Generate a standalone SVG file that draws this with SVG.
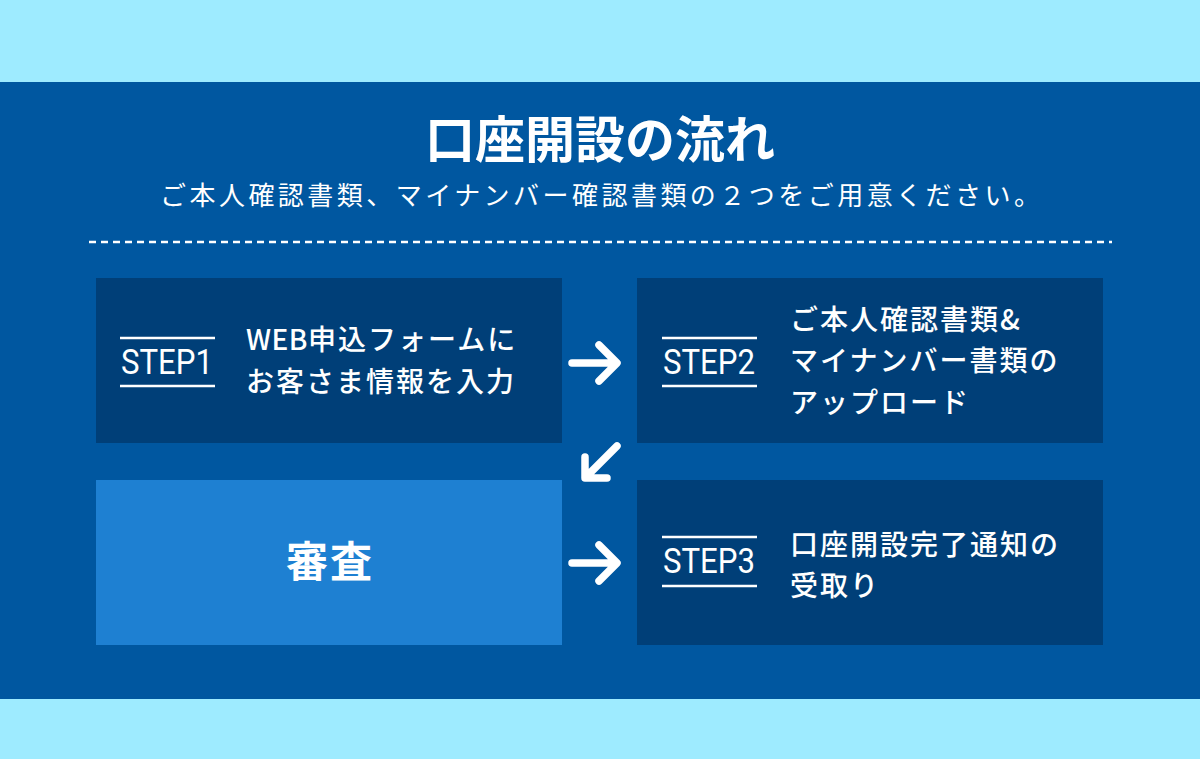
<svg xmlns="http://www.w3.org/2000/svg" width="1200" height="759" viewBox="0 0 1200 759">
<style>
.jp{font-family:"Noto Sans CJK JP","Noto Sans",sans-serif;fill:#fff}
.bt{font-size:28px;letter-spacing:2px;font-weight:500}
.box{fill:#003F78}
.step{font-family:"Roboto","Liberation Sans",sans-serif;fill:#fff;font-size:35px}
.ul{stroke:#fff;stroke-width:2.5}
.arr{fill:none;stroke:#fff;stroke-width:7.5;stroke-linecap:round;stroke-linejoin:round}
</style>
<rect x="0" y="0" width="1200" height="759" fill="#9EEBFF"/>
<rect x="0" y="82" width="1200" height="617" fill="#0057A0"/>
<g id="header">
<text class="jp" x="600" y="158" text-anchor="middle" font-size="50" font-weight="700">口座開設の流れ</text>
<text class="jp" x="160" y="205" font-size="26" font-weight="400" textLength="880" lengthAdjust="spacing">ご本人確認書類、マイナンバー確認書類の２つをご用意ください。</text>
<line x1="89" y1="242" x2="1112" y2="242" stroke="#fff" stroke-width="2.5" stroke-dasharray="7,5"/>
</g>
<g id="step1">
<rect class="box" x="96" y="278" width="466" height="165"/>
<line class="ul" x1="120" y1="338" x2="215" y2="338"/>
<line class="ul" x1="120" y1="386" x2="215" y2="386"/>
<text class="step" x="121" y="374" textLength="92" lengthAdjust="spacingAndGlyphs">STEP1</text>
<text class="jp bt" x="246" y="350"><tspan letter-spacing="0.5">WEB</tspan>申込フォームに</text>
<text class="jp bt" x="246" y="392">お客さま情報を入力</text>
</g>
<g id="step2">
<rect class="box" x="637" y="278" width="466" height="165"/>
<line class="ul" x1="662" y1="338" x2="757" y2="338"/>
<line class="ul" x1="662" y1="386" x2="757" y2="386"/>
<text class="step" x="663" y="374" textLength="92" lengthAdjust="spacingAndGlyphs">STEP2</text>
<text class="jp bt" x="790" y="330">ご本人確認書類&amp;</text>
<text class="jp bt" x="790" y="371">マイナンバー書類の</text>
<text class="jp bt" x="790" y="413">アップロード</text>
</g>
<g id="review">
<rect x="96" y="480" width="466" height="165" fill="#1E80D2"/>
<text class="jp" x="330" y="577" text-anchor="middle" font-size="42" font-weight="700" letter-spacing="2">審査</text>
</g>
<g id="step3">
<rect class="box" x="637" y="480" width="466" height="165"/>
<line class="ul" x1="662" y1="537" x2="757" y2="537"/>
<line class="ul" x1="662" y1="586" x2="757" y2="586"/>
<text class="step" x="663" y="573" textLength="92" lengthAdjust="spacingAndGlyphs">STEP3</text>
<text class="jp bt" x="790" y="555">口座開設完了通知の</text>
<text class="jp bt" x="790" y="596">受取り</text>
</g>
<g id="connectors">
<path class="arr" d="M572 363 H616 M599 345 L617 363 L599 381"/>
<path class="arr" d="M617 446 L586 477 M585 457 V478 H607"/>
<path class="arr" d="M572 563 H616 M599 545 L617 563 L599 581"/>
</g>
</svg>
